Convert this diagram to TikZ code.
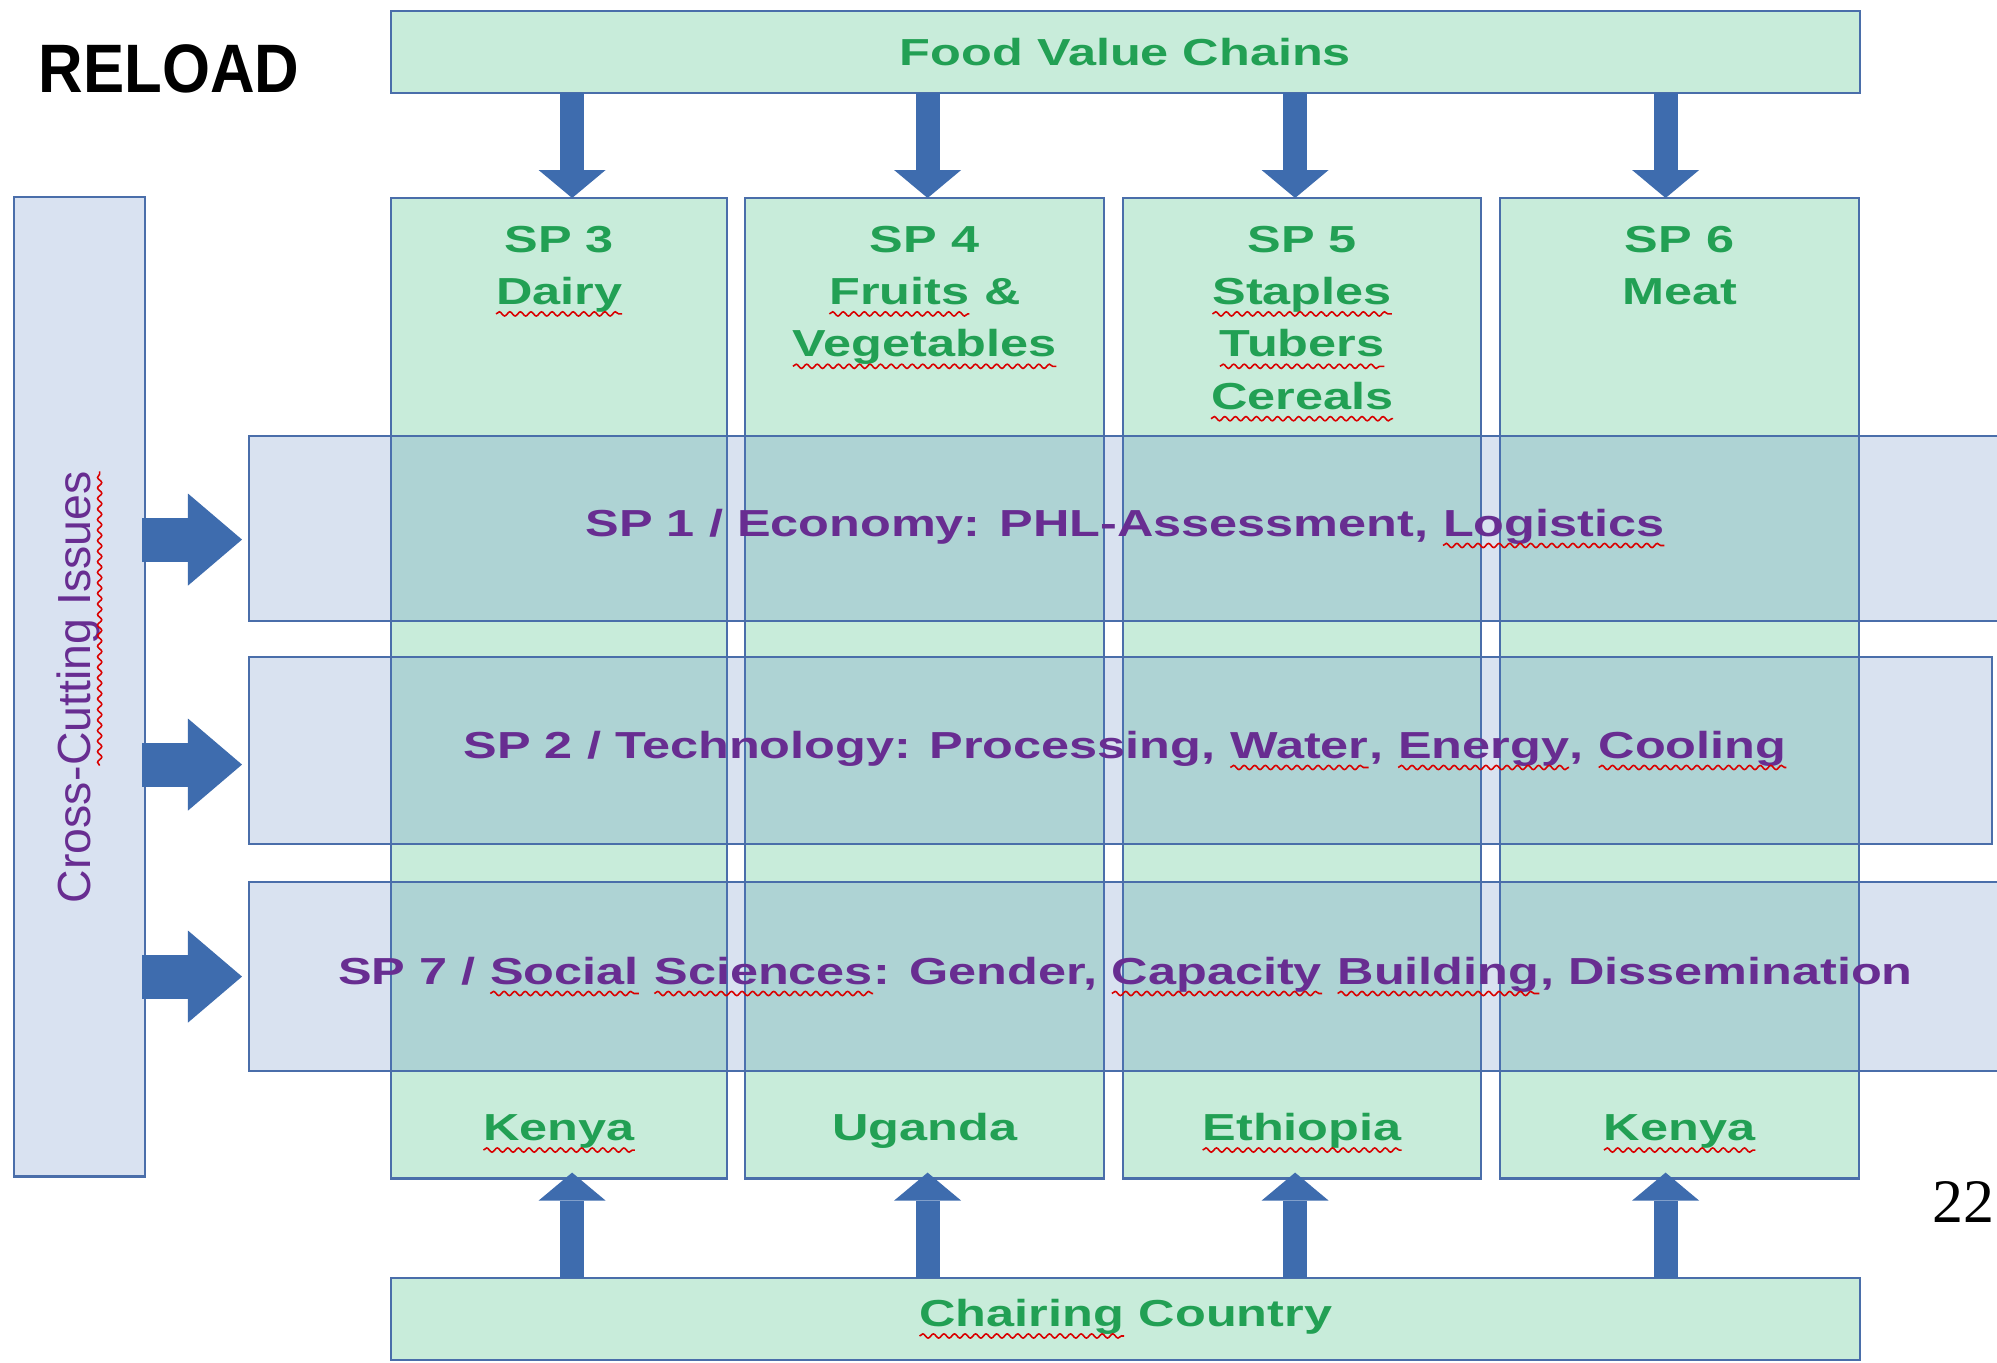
\documentclass[tikz,border=0pt]{standalone}
\usepackage{fontspec}
\usetikzlibrary{arrows.meta,positioning,decorations.pathmorphing}
\setmainfont{Liberation Sans}
\newfontfamily\widesf[FakeStretch=1.34]{Liberation Sans}
\newfontfamily\narrowsf[FakeStretch=0.9]{Liberation Sans}
\newfontfamily\serifnum{Liberation Serif}
\definecolor{mint}{RGB}{200,236,218}
\definecolor{bandblue}{RGB}{82,123,191}
\definecolor{edge}{RGB}{74,110,170}
\definecolor{leaf}{RGB}{34,160,84}
\definecolor{plum}{RGB}{104,45,145}
\definecolor{arrowblue}{RGB}{62,108,174}
\newcommand\spell[1]{\tikz[baseline=(w.base)]{\node[inner sep=0pt,outer sep=0pt,minimum width=0pt,minimum height=0pt,anchor=base] (w) {#1};
    \draw[red!85!black,line width=0.45pt,decorate,decoration={snake,amplitude=0.6pt,segment length=3pt}] ([yshift=-2.7pt]w.base west) -- ([yshift=-2.7pt]w.base east);}}

\begin{document}
\begin{tikzpicture}[x=0.01cm,y=-0.01cm,
        box/.style={draw=edge,line width=0.7pt,inner sep=0pt,outer sep=0pt,anchor=north west},
        green box/.style={box,fill=mint},
        band/.style={box,fill=bandblue,fill opacity=0.22},
        head/.style={font=\widesf\bfseries\fontsize{10.7}{14.9}\selectfont,text=leaf,align=center,inner sep=0pt},
        topic/.style={font=\widesf\bfseries\fontsize{10.7}{14.9}\selectfont,text=plum,inner sep=0pt},
        down/.style={arrowblue,line width=0.24cm,-{Triangle[width=0.67cm,length=0.28cm,line width=0pt]}},
        push/.style={arrowblue,line width=0.44cm,-{Triangle[width=0.92cm,length=0.54cm,line width=0pt]}}]
        \useasboundingbox (0,0) rectangle (1997,1362);
        \clip (0,0) rectangle (1997,1362);
        \fill[white] (0,0) rectangle (1997,1362);
        \node[anchor=base west,inner sep=0pt,font=\narrowsf\bfseries\fontsize{19.5}{23}\selectfont] (title) at (38,92) {RELOAD};
        \node[green box,head,minimum width=14.68cm,minimum height=0.82cm] (fvc) at (391,11) {Food Value Chains};
        \node[green box,head,minimum width=14.68cm,minimum height=0.82cm] (chair) at (391,1278) {\spell{Chairing} Country};
        \node[green box,minimum width=3.36cm,minimum height=9.8cm] (col1) at (391,198) {};
        \node[green box,minimum width=3.59cm,minimum height=9.8cm] (col2) at (745,198) {};
        \node[green box,minimum width=3.58cm,minimum height=9.8cm] (col3) at (1123,198) {};
        \node[green box,minimum width=3.59cm,minimum height=9.8cm] (col4) at (1500,198) {};
        \node[head,below=0.27cm of col1.north] (sp3) {SP 3\\\spell{Dairy}};
        \node[head,below=0.27cm of col2.north] (sp4) {SP 4\\\spell{Fruits} \&\\\spell{Vegetables}};
        \node[head,below=0.27cm of col3.north] (sp5) {SP 5\\\spell{Staples}\\\spell{Tubers}\\\spell{Cereals}};
        \node[head,below=0.27cm of col4.north] (sp6) {SP 6\\Meat};
        \node[band,minimum width=17.8cm,minimum height=1.85cm] (band1) at (249,436) {};
        \node[band,minimum width=17.42cm,minimum height=1.87cm] (band2) at (249,657) {};
        \node[band,minimum width=17.8cm,minimum height=1.89cm] (band3) at (249,882) {};
        \node[topic] (sp1) at (fvc.south |- band1.center) {SP 1 / Economy: PHL-Assessment, \spell{Logistics}};
        \node[topic] (sp2) at (fvc.south |- band2.center) {SP 2 / Technology: Processing, \spell{Water}, \spell{Energy}, \spell{Cooling}};
        \node[topic] (sp7) at (fvc.south |- band3.center) {SP 7 / \spell{Social} \spell{Sciences}: Gender, \spell{Capacity} \spell{Building}, Dissemination};
        \node[head,anchor=base] (ke1) at ([yshift=0.38cm]col1.south) {\spell{Kenya}};
        \node[head,anchor=base] (ug) at ([yshift=0.38cm]col2.south) {Uganda};
        \node[head,anchor=base] (et) at ([yshift=0.38cm]col3.south) {\spell{Ethiopia}};
        \node[head,anchor=base] (ke2) at ([yshift=0.38cm]col4.south) {\spell{Kenya}};
        \node[box,fill=bandblue!22,minimum width=1.31cm,minimum height=9.79cm] (cci) at (14,197) {};
        \node[rotate=90,inner sep=0pt,font=\fontsize{13.2}{16}\selectfont,text=plum] (cct) at (cci.center) {Cross-\spell{Cutting Issues}};
        \foreach \c/\dx in {col1/0.13,col2/0.03,col3/-0.07,col4/-0.14}{
            \draw[down] ([xshift=\dx cm]fvc.south -| \c.north) -- ([xshift=\dx cm]\c.north);
            \draw[down] ([xshift=\dx cm]chair.north -| \c.south) -- ([xshift=\dx cm,yshift=0.06cm]\c.south);
        }
        \foreach \b/\dy in {band1/0.11,band2/0.14,band3/0}
            \draw[push] ([xshift=-0.03cm,yshift=-\dy cm]cci.east |- \b.west) -- ([xshift=-0.07cm,yshift=-\dy cm]\b.west);
        \node[anchor=base east,inner sep=0pt,font=\serifnum\fontsize{17.6}{20}\selectfont] (page) at (1995,1222) {22};
    \end{tikzpicture}
\end{document}
